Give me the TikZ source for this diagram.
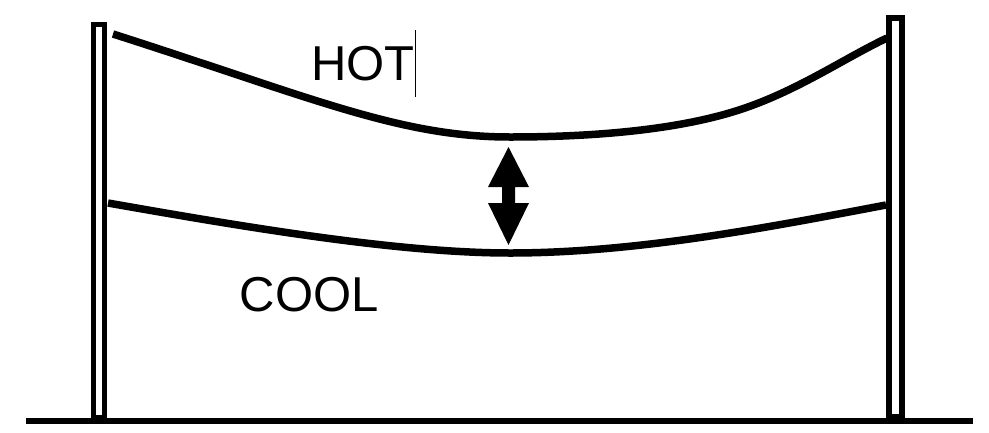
\documentclass[tikz,border=0pt]{standalone}
\usepackage{fontspec}
\setmainfont{Liberation Sans}
\begin{document}
\begin{tikzpicture}[x=1pt,y=-1pt,
  cable/.style={line width=7.5pt,line cap=butt},
  pole/.style={draw,fill=white},
  label/.style={font=\fontsize{49}{49}\selectfont,anchor=base west,inner sep=0pt}]
\useasboundingbox (0,0) rectangle (989,432);
% ground
\draw[line width=6pt] (26,421) -- (973,421);
% poles
\draw[pole,line width=5pt] (93.5,24.5) rectangle (104.2,417);
\draw[pole,line width=6pt] (889,18) rectangle (901.5,417);
% cables
\coordinate (hotL) at (113,34);
\coordinate (hotR) at (887,38);
\coordinate (coolL) at (108,203);
\coordinate (coolR) at (886,205);
\draw[cable] (hotL) .. controls (313,98) and (400,137) .. (510,137)
  .. controls (610,137) and (690,127) .. (745,108)
  .. controls (800,89) and (845,58) .. (hotR);
\draw[cable] (coolL) .. controls (250,228) and (400,253) .. (510,253)
  .. controls (640,253) and (780,225) .. (coolR);
% double arrow
\fill (508.5,147) -- (529,187) -- (515,187) -- (515,203) -- (529,203) -- (508.5,245)
  -- (488,203) -- (502,203) -- (502,187) -- (488,187) -- cycle;
% labels
\node[label] (hot) at (311,80) {HOT};
\node[label] (cool) at (239.5,311) {COOL};
\draw[line width=1pt] (415,30) -- (415,97);
\end{tikzpicture}
\end{document}
